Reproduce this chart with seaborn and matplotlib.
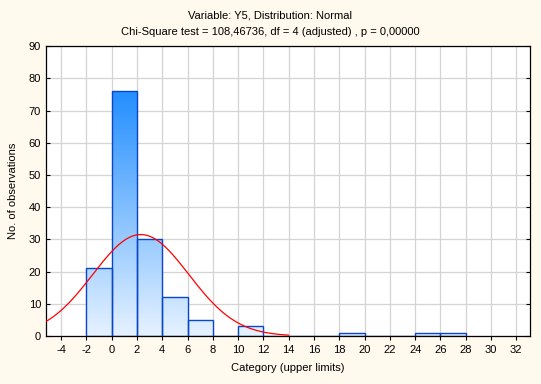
import numpy as np
import pandas as pd
import seaborn as sns
import matplotlib.pyplot as plt
from matplotlib.colors import LinearSegmentedColormap

# histogram data (bin upper limits and counts)
bin_edges = [-2, 0, 2, 4, 6, 8, 10, 12, 14, 16, 18, 20, 22, 24, 26, 28]
counts = [21, 76, 30, 12, 5, 0, 3, 0, 0, 0, 1, 0, 0, 1, 1]
x_ticks = list(range(-4, 34, 2))
y_ticks = list(range(0, 100, 10))

# fitted normal
n_obs = sum(counts)
mu, sigma = 2.3, 3.8
bin_w = 2

sns.set_style("white")
plt.rcParams['font.family'] = ['Liberation Sans', 'DejaVu Sans']
plt.rcParams['axes.unicode_minus'] = False
plt.rcParams['text.color'] = 'black'
plt.rcParams['axes.labelcolor'] = 'black'

fig = plt.figure(figsize=(5.41, 3.84), dpi=100, facecolor='#FFF9EE')
ax = fig.add_axes([0.085, 0.125, 0.895, 0.755])
ax.set_facecolor('white')

df = pd.DataFrame({'mid': np.array(bin_edges[:-1]) + 1, 'n': counts})
sns.histplot(data=df, x='mid', weights='n', bins=bin_edges, ax=ax,
             stat='count', element='bars', fill=True,
             facecolor='none', edgecolor='#0A46C8', linewidth=1.0, alpha=1)

# gradient fill for each bar
cmap = LinearSegmentedColormap.from_list('g', ['#E6F2FF', '#1E8CFF'])
grad = np.linspace(0, 1, 256).reshape(-1, 1)
for p in ax.patches:
    h = p.get_height()
    if h <= 0:
        continue
    im = ax.imshow(grad, cmap=cmap, origin='lower', aspect='auto',
                   extent=[-5.2, 33.1, 0, 78], zorder=1, vmin=0, vmax=1)
    im.set_clip_path(p)
    p.set_zorder(2)

xs = np.linspace(-5.2, 14, 400)
pdf = n_obs * bin_w / (sigma * np.sqrt(2 * np.pi)) * np.exp(-(xs - mu) ** 2 / (2 * sigma ** 2))
sns.lineplot(x=xs, y=pdf, ax=ax, color='#FF0000', linewidth=0.9, zorder=3)

ax.set_xlim(-5.2, 33.1)
ax.set_ylim(0, 90)
ax.set_xticks(x_ticks)
ax.set_yticks(y_ticks)
ax.grid(True, color='#D4D4D4', linewidth=0.9, zorder=0)
ax.set_axisbelow(True)
for s in ax.spines.values():
    s.set_color('black')
    s.set_linewidth(0.9)
ax.tick_params(axis='both', labelsize=8, length=3, width=0.8, colors='black', direction='out',
               bottom=True, left=True)
ax.tick_params(axis='y', right=True, direction='in', length=3)
ax.set_xlabel('Category (upper limits)', fontsize=8, labelpad=6)
ax.set_ylabel('No. of observations', fontsize=8, labelpad=8)

fig.text(0.5, 0.960, 'Variable: Y5, Distribution: Normal', ha='center', va='center', fontsize=8)
fig.text(0.5, 0.916, 'Chi-Square test = 108,46736, df = 4 (adjusted) , p = 0,00000',
         ha='center', va='center', fontsize=8)

fig.savefig('out.png', dpi=100, facecolor=fig.get_facecolor())
